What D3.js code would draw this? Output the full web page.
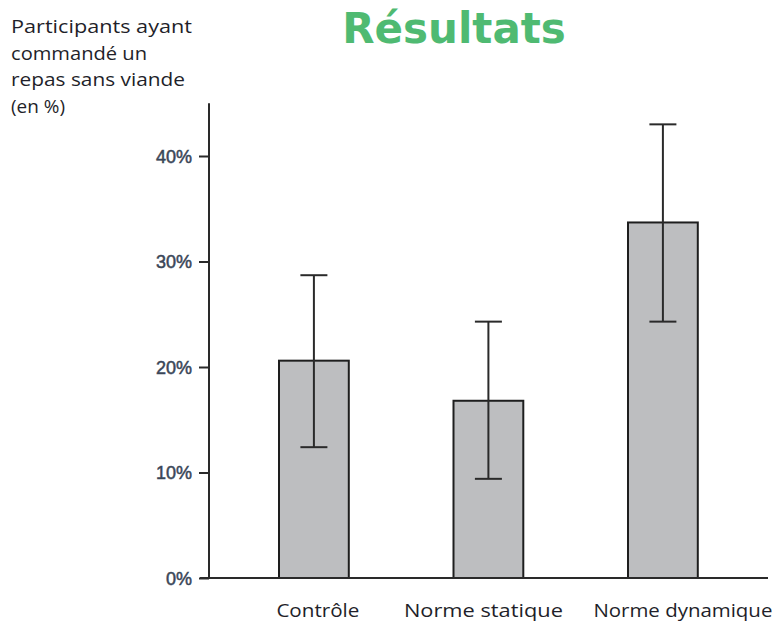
<!DOCTYPE html>
<html>
<head>
<meta charset="utf-8">
<script src="https://cdn.jsdelivr.net/npm/d3@7"></script>
<style>
  body { margin: 0; background: #fff; }
  svg { display: block; }
</style>
</head>
<body>
<svg id="chart" width="772" height="622"></svg>
<script>
// Share of participants who ordered a meat-free meal, by condition
const categories = ["Contrôle", "Norme statique", "Norme dynamique"];
const values = [20.6, 16.8, 33.7];
const errLow = [12.4, 9.4, 24.3];
const errHigh = [28.7, 24.3, 43.0];
const yTicks = [0, 10, 20, 30, 40];
const yTitleLines = ["Participants ayant", "commandé un", "repas sans viande", "(en %)"];
const chartTitle = "Résultats";

const svg = d3.select("#chart");

const y = d3.scaleLinear().domain([0, 40]).range([578, 156]);
const x = d3.scaleBand()
  .domain(categories)
  .range([226.65, 750.15])
  .paddingInner(0.6)
  .paddingOuter(0.3);

const data = categories.map((c, i) => ({ cat: c, v: values[i], lo: errLow[i], hi: errHigh[i] }));

// Title
svg.append("text")
  .attr("x", 454).attr("y", 43)
  .attr("text-anchor", "middle")
  .style("font-family", "'DejaVu Sans', sans-serif")
  .style("font-weight", "bold")
  .style("font-size", "42px")
  .style("fill", "#4fba72")
  .text(chartTitle);

// Y-axis title, four lines
const titleWidths = [181, 136, 174, 54];
svg.append("g").selectAll("text")
  .data(yTitleLines)
  .join("text")
  .attr("x", 11)
  .attr("y", (d, i) => 33 + i * 26.7)
  .attr("textLength", (d, i) => titleWidths[i])
  .attr("lengthAdjust", "spacingAndGlyphs")
  .style("font-family", "'Open Sans', sans-serif")
  .style("font-weight", 500)
  .style("font-size", "18px")
  .style("fill", "#1f1f2a")
  .text(d => d);

// Bars
svg.append("g").selectAll("rect")
  .data(data)
  .join("rect")
  .attr("x", d => x(d.cat))
  .attr("y", d => y(d.v))
  .attr("width", x.bandwidth())
  .attr("height", d => y(0) - y(d.v))
  .style("fill", "#bdbec0")
  .style("stroke", "#1e1e1e")
  .style("stroke-width", 2);

// Error bars
const capHalf = 13.5;
const eb = svg.append("g")
  .style("stroke", "#2a2a2a")
  .style("stroke-width", 2);
data.forEach(d => {
  const cx = x(d.cat) + x.bandwidth() / 2;
  eb.append("line").attr("x1", cx).attr("x2", cx).attr("y1", y(d.hi)).attr("y2", y(d.lo));
  eb.append("line").attr("x1", cx - capHalf).attr("x2", cx + capHalf).attr("y1", y(d.hi)).attr("y2", y(d.hi));
  eb.append("line").attr("x1", cx - capHalf).attr("x2", cx + capHalf).attr("y1", y(d.lo)).attr("y2", y(d.lo));
});

// Y axis
const axisX = 209;
const yAxis = svg.append("g")
  .attr("transform", `translate(${axisX},0)`)
  .call(d3.axisLeft(y).tickValues(yTicks).tickFormat(d => d + "%").tickSize(10).tickPadding(7).tickSizeOuter(0));
yAxis.select(".domain").remove();
yAxis.selectAll(".tick line").style("stroke", "#2a2a2a").style("stroke-width", 2);
yAxis.selectAll(".tick text")
  .style("font-family", "'Liberation Sans', Arial, sans-serif")
  .style("font-size", "18px")
  .style("fill", "#3a4658")
  .style("stroke", "#3a4658")
  .style("stroke-width", 0.5)
  .attr("dy", "0.35em");

svg.append("line")
  .attr("x1", axisX).attr("x2", axisX)
  .attr("y1", y(45)).attr("y2", y(0) + 1)
  .style("stroke", "#2a2a2a").style("stroke-width", 2);

// Baseline
svg.append("line")
  .attr("x1", 200).attr("x2", 768)
  .attr("y1", y(0)).attr("y2", y(0))
  .style("stroke", "#2a2a2a").style("stroke-width", 2);

// Category labels
const labelNudge = [4, -5, 20];
const labelWidths = [83, 159, 179];
svg.append("g").selectAll("text")
  .data(categories)
  .join("text")
  .attr("x", (d, i) => x(d) + x.bandwidth() / 2 + labelNudge[i])
  .attr("y", 617)
  .attr("text-anchor", "middle")
  .attr("textLength", (d, i) => labelWidths[i])
  .attr("lengthAdjust", "spacingAndGlyphs")
  .style("font-family", "'Open Sans', sans-serif")
  .style("font-weight", 500)
  .style("font-size", "18px")
  .style("fill", "#1f1f2a")
  .text(d => d);
</script>
</body>
</html>
